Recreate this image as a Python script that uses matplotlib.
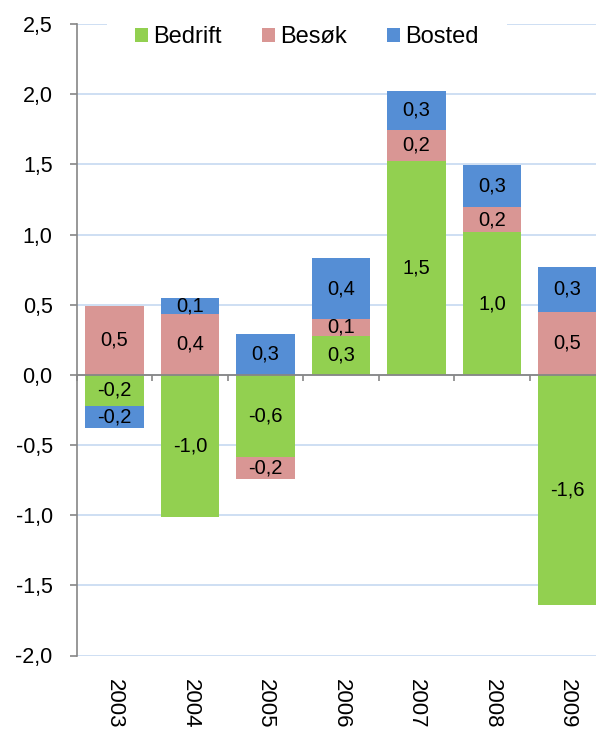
import matplotlib
matplotlib.use("Agg")
import matplotlib.pyplot as plt
import numpy as np

plt.rcParams['font.family'] = ['Liberation Sans', 'DejaVu Sans']

years = ["2003", "2004", "2005", "2006", "2007", "2008", "2009"]
series_names = ["Bedrift", "Besøk", "Bosted"]
bedrift = [-0.22, -1.01, -0.585, 0.28, 1.525, 1.015, -1.64]
besok = [0.49, 0.435, -0.16, 0.12, 0.22, 0.18, 0.45]
bosted = [-0.16, 0.115, 0.29, 0.43, 0.28, 0.30, 0.32]
colors = ["#92D050", "#D99694", "#558ED5"]
yticks = [-2.0, -1.5, -1.0, -0.5, 0.0, 0.5, 1.0, 1.5, 2.0, 2.5]

W, H = 596, 731
fig = plt.figure(figsize=(W/100, H/100), dpi=100)
ax_l, ax_r, ax_t, ax_b = 76.7, 605.3, 24.0, 655.5
ax = fig.add_axes([ax_l/W, 1-ax_b/H, (ax_r-ax_l)/W, (ax_b-ax_t)/H])

x = np.arange(len(years))
pos_bottom = np.zeros(len(years))
neg_bottom = np.zeros(len(years))
width = 0.775
for name, vals, col in zip(series_names, [bedrift, besok, bosted], colors):
    vals = np.array(vals, dtype=float)
    bottoms = np.where(vals >= 0, pos_bottom, neg_bottom)
    ax.bar(x, vals, width, bottom=bottoms, color=col, label=name,
           edgecolor='none', zorder=3)
    for xi, b, v in zip(x, bottoms, vals):
        txt = f"{v:.1f}".replace(".", ",")
        ax.text(xi, b + v/2, txt, ha='center', va='center', fontsize=14.5,
                color='black', zorder=4)
    pos_bottom = np.where(vals >= 0, pos_bottom + vals, pos_bottom)
    neg_bottom = np.where(vals < 0, neg_bottom + vals, neg_bottom)

ax.set_xlim(-0.5, len(years) - 0.5)
ax.set_ylim(-2.0, 2.5)
ax.set_yticks(yticks)
ax.set_yticklabels([f"{t:.1f}".replace(".", ",") for t in yticks], fontsize=15.5)
ax.yaxis.grid(True, color='#C6D9F1', linewidth=1.2, zorder=0)
ax.set_axisbelow(True)

for s in ['top', 'right', 'bottom']:
    ax.spines[s].set_visible(False)
ax.spines['left'].set_color('#868686')
ax.spines['left'].set_linewidth(1.2)
ax.tick_params(axis='y', length=5.3, color='#868686', width=1.2, pad=12)

ax.set_xticks(x)
ax.set_xticklabels(years, rotation=270, fontsize=16)
ax.tick_params(axis='x', length=0, pad=17)

# zero line axis with boundary ticks
sec = ax.secondary_xaxis(2.0/4.5)
sec.set_xticks(np.arange(len(years) + 1) - 0.5)
sec.set_xticklabels([])
sec.tick_params(axis='x', length=4.2, color='#868686', width=1.2, direction='out')
sec.spines['bottom'].set_color('#868686')
sec.spines['bottom'].set_linewidth(1.3)
sec.set_zorder(5)

leg = ax.legend(loc='center', bbox_to_anchor=(0.4353, 0.9794), ncol=3,
                frameon=True, fontsize=17, handlelength=0.54, handleheight=0.54,
                handletextpad=0.22, columnspacing=1.7, borderpad=1.2,
                fancybox=False, borderaxespad=0)
leg.get_frame().set_edgecolor('none')
leg.get_frame().set_facecolor('white')
leg.get_frame().set_alpha(1)
leg.set_zorder(6)

fig.savefig("out.png", dpi=100)
